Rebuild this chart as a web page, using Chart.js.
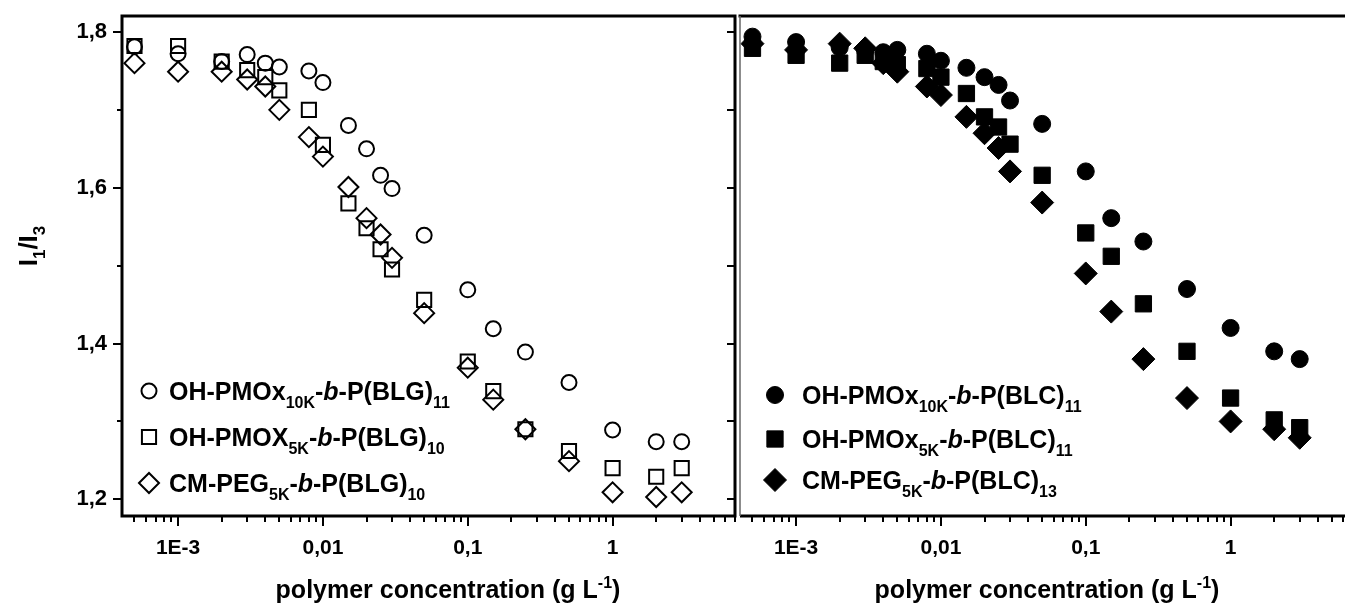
<!DOCTYPE html>
<html>
<head>
<meta charset="utf-8">
<script src="https://cdn.jsdelivr.net/npm/chart.js@4.4.0/dist/chart.umd.min.js"></script>
<style>
  body { margin: 0; background: #fff; width: 1345px; height: 607px; overflow: hidden; position: relative; }
  #left { position: absolute; left: 0; top: 0; }
  #right { position: absolute; left: 738px; top: 0; }
</style>
</head>
<body>
<canvas id="left" width="737" height="607"></canvas>
<canvas id="right" width="618" height="607"></canvas>
<script>
// polymer concentration (g/L), same for every series
var conc = [0.0005, 0.001, 0.002, 0.003, 0.004, 0.005, 0.008, 0.01, 0.015, 0.02, 0.025, 0.03, 0.05, 0.1, 0.15, 0.25, 0.5, 1, 2, 3];

// left panel - P(BLG)
var blgPmox10k = [1.781, 1.772, 1.762, 1.771, 1.760, 1.755, 1.750, 1.735, 1.680, 1.650, 1.616, 1.599, 1.539, 1.469, 1.419, 1.389, 1.350, 1.289, 1.274, 1.274];
var blgPmox5k  = [1.782, 1.782, 1.762, 1.751, 1.742, 1.725, 1.700, 1.655, 1.580, 1.548, 1.521, 1.495, 1.456, 1.377, 1.339, 1.290, 1.262, 1.240, 1.229, 1.240];
var blgPeg5k   = [1.760, 1.749, 1.749, 1.739, 1.730, 1.700, 1.665, 1.640, 1.601, 1.561, 1.540, 1.510, 1.439, 1.369, 1.328, 1.290, 1.249, 1.209, 1.203, 1.209];

// right panel - P(BLC)
var blcPmox10k = [1.794, 1.787, 1.780, 1.776, 1.774, 1.777, 1.772, 1.763, 1.754, 1.742, 1.732, 1.712, 1.682, 1.621, 1.561, 1.531, 1.470, 1.420, 1.390, 1.380];
var blcPmox5k  = [1.779, 1.770, 1.760, 1.770, 1.762, 1.758, 1.753, 1.742, 1.721, 1.691, 1.678, 1.656, 1.616, 1.542, 1.512, 1.451, 1.390, 1.330, 1.302, 1.292];
var blcPeg5k   = [1.785, 1.777, 1.785, 1.779, 1.760, 1.749, 1.730, 1.719, 1.691, 1.670, 1.651, 1.621, 1.581, 1.490, 1.441, 1.380, 1.330, 1.300, 1.290, 1.279];

// axes
var xMajor = [0.001, 0.01, 0.1, 1];
var xMajorText = ['1E-3', '0,01', '0,1', '1'];
var yMajor = [1.2, 1.4, 1.6, 1.8];
var yMajorText = ['1,2', '1,4', '1,6', '1,8'];
var yMinor = [1.3, 1.5, 1.7];
var xMin = 0.00041, xMax = 7.0, yMin = 1.1786, yMax = 1.8205;

var leftNames  = ['OH-PMOx_{10K}-*b*-P(BLG)_{11}', 'OH-PMOX_{5K}-*b*-P(BLG)_{10}', 'CM-PEG_{5K}-*b*-P(BLG)_{10}'];
var rightNames = ['OH-PMOx_{10K}-*b*-P(BLC)_{11}', 'OH-PMOx_{5K}-*b*-P(BLC)_{11}', 'CM-PEG_{5K}-*b*-P(BLC)_{13}'];
var xTitle = 'polymer concentration (g L^{-1})';
var yTitle = 'I_{1}/I_{3}';

var FAMILY = '"Liberation Sans", Arial, sans-serif';
Chart.defaults.font.family = FAMILY;
Chart.defaults.color = '#000';

function pts(ys) {
  return conc.map(function (c, i) { return { x: c, y: ys[i] }; });
}

// "a_{sub}^{sup}*it*" -> segments
function parseRich(str) {
  return str.split(/(_\{[^}]*\}|\^\{[^}]*\}|\*[^*]*\*)/).filter(function (s) { return s; }).map(function (s) {
    if (s[0] === '_') return { t: s.slice(2, -1), sub: true };
    if (s[0] === '^') return { t: s.slice(2, -1), sup: true };
    if (s[0] === '*') return { t: s.slice(1, -1), it: true };
    return { t: s };
  });
}

function drawRich(ctx, str, x, y, size, align) {
  var segs = parseRich(str);
  var small = Math.round(size * 0.64);
  var fonts = segs.map(function (s) {
    return (s.it ? 'italic ' : '') + 'bold ' + ((s.sub || s.sup) ? small : size) + 'px ' + FAMILY;
  });
  var widths = segs.map(function (s, i) { ctx.font = fonts[i]; return ctx.measureText(s.t).width; });
  var total = widths.reduce(function (a, b) { return a + b; }, 0);
  var cx = align === 'center' ? x - total / 2 : x;
  ctx.textBaseline = 'alphabetic';
  ctx.textAlign = 'left';
  segs.forEach(function (s, i) {
    ctx.font = fonts[i];
    var dy = s.sub ? size * 0.3 : (s.sup ? -size * 0.4 : 0);
    ctx.fillText(s.t, cx, y + dy);
    cx += widths[i];
  });
}

function marker(ctx, ds, x, y) {
  ctx.save();
  ctx.strokeStyle = ds.borderColor;
  ctx.fillStyle = ds.backgroundColor;
  ctx.lineWidth = ds.borderWidth;
  Chart.helpers.drawPoint(ctx, { pointStyle: ds.pointStyle, rotation: 0, radius: ds.pointRadius, borderWidth: ds.borderWidth }, x, y);
  ctx.restore();
}

// frame, minor ticks, legend and titles
var framePlugin = {
  id: 'frame',
  afterDraw: function (chart, args, opts) {
    var ctx = chart.ctx, a = chart.chartArea;
    var xs = chart.scales.x, ys = chart.scales.y;
    ctx.save();
    ctx.strokeStyle = '#000';
    ctx.lineCap = 'butt';

    // x ticks, outward
    ctx.lineWidth = 2;
    ctx.beginPath();
    for (var e = -4; e <= 1; e++) {
      for (var m = 1; m <= 9; m++) {
        var v = m * Math.pow(10, e);
        if (v < xMin || v > xMax) continue;
        var px = Math.round(xs.getPixelForValue(v));
        ctx.moveTo(px, a.bottom);
        ctx.lineTo(px, a.bottom + (m === 1 ? 10 : 6));
      }
    }
    ctx.stroke();

    if (opts.yTicks) {
      ctx.beginPath();
      yMajor.concat(yMinor).forEach(function (v) {
        var py = Math.round(ys.getPixelForValue(v));
        var major = yMajor.indexOf(v) >= 0;
        ctx.moveTo(a.left - (major ? 9 : 5), py);
        ctx.lineTo(a.left, py);
        ctx.moveTo(a.right, py);
        ctx.lineTo(a.right - 8, py);
      });
      ctx.stroke();
    }

    // border
    ctx.lineWidth = 3;
    ctx.beginPath();
    ctx.moveTo(a.left, a.bottom);
    ctx.lineTo(a.right + 1.5, a.bottom);
    ctx.moveTo(a.left - 1.5, a.top);
    ctx.lineTo(a.right + 1.5, a.top);
    ctx.moveTo(a.right, a.top);
    ctx.lineTo(a.right, a.bottom);
    if (opts.yTicks) {
      ctx.moveTo(a.left, a.top - 1.5);
      ctx.lineTo(a.left, a.bottom + 1.5);
    }
    ctx.stroke();
    if (!opts.yTicks) {
      ctx.strokeStyle = '#666';
      ctx.lineWidth = 1.5;
      ctx.beginPath();
      ctx.moveTo(a.left, a.top);
      ctx.lineTo(a.left, a.bottom);
      ctx.stroke();
    }

    // legend
    ctx.fillStyle = '#000';
    chart.data.datasets.forEach(function (ds, i) {
      var row = opts.legend.rows[i];
      marker(ctx, ds, opts.legend.mx, row);
      drawRich(ctx, ds.label, opts.legend.tx, row + 9, 25, 'left');
    });

    // x title
    drawRich(ctx, xTitle, opts.xTitleX, 598, 25, 'center');

    // y title
    if (opts.yTitle) {
      ctx.save();
      ctx.translate(37, 246);
      ctx.rotate(-Math.PI / 2);
      drawRich(ctx, yTitle, 0, 0, 26, 'center');
      ctx.restore();
    }
    ctx.restore();
  }
};

function noPad(s) {
  s.paddingLeft = 0; s.paddingRight = 0; s.paddingTop = 0; s.paddingBottom = 0;
}

function makeDatasets(names, ys, filled) {
  var styles = ['circle', 'rect', 'rectRot'];
  var radii = filled ? [8.5, 11.5, 11.5] : [7.5, 10, 10];
  return ys.map(function (arr, i) {
    return {
      label: names[i],
      data: pts(arr),
      pointStyle: styles[i],
      pointRadius: radii[i],
      borderWidth: filled ? 1 : 2,
      borderColor: '#000',
      backgroundColor: filled ? '#000' : 'rgba(0,0,0,0)',
      showLine: false
    };
  });
}

function makeChart(id, names, ys, filled, opts) {
  return new Chart(document.getElementById(id), {
    type: 'scatter',
    data: { datasets: makeDatasets(names, ys, filled) },
    options: {
      responsive: false,
      animation: false,
      events: [],
      clip: false,
      layout: { autoPadding: false, padding: { top: 16, right: opts.padRight, left: 0, bottom: 0 } },
      plugins: {
        legend: { display: false },
        tooltip: { enabled: false },
        frame: opts
      },
      scales: {
        x: {
          type: 'logarithmic',
          min: xMin,
          max: xMax,
          grid: { display: false, drawTicks: false },
          border: { display: false },
          afterBuildTicks: function (s) { s.ticks = xMajor.map(function (v) { return { value: v, major: true }; }); },
          afterFit: function (s) { s.height = 91; noPad(s); },
          ticks: {
            autoSkip: false,
            maxRotation: 0,
            padding: 20,
            font: { size: 21, weight: 'bold' },
            callback: function (v) {
              var i = xMajor.indexOf(v);
              return i >= 0 ? xMajorText[i] : '';
            }
          }
        },
        y: {
          min: yMin,
          max: yMax,
          grid: { display: false, drawTicks: false },
          border: { display: false },
          afterBuildTicks: function (s) { s.ticks = yMajor.map(function (v) { return { value: v }; }); },
          afterFit: function (s) { s.width = opts.yWidth; noPad(s); },
          ticks: {
            display: opts.yTicks,
            padding: 15,
            font: { size: 22, weight: 'bold' },
            callback: function (v) {
              var i = yMajor.indexOf(v);
              return i >= 0 ? yMajorText[i] : '';
            }
          }
        }
      }
    },
    plugins: [framePlugin]
  });
}

makeChart('left', leftNames, [blgPmox10k, blgPmox5k, blgPeg5k], false, {
  yTicks: true, yTitle: true, yWidth: 122, padRight: 2,
  legend: { mx: 149, tx: 169, rows: [391, 437, 483] },
  xTitleX: 448
});
makeChart('right', rightNames, [blcPmox10k, blcPmox5k, blcPeg5k], true, {
  yTicks: false, yTitle: false, yWidth: 2, padRight: 3,
  legend: { mx: 775 - 738, tx: 802 - 738, rows: [395, 439, 480] },
  xTitleX: 1047 - 738
});
</script>
</body>
</html>
